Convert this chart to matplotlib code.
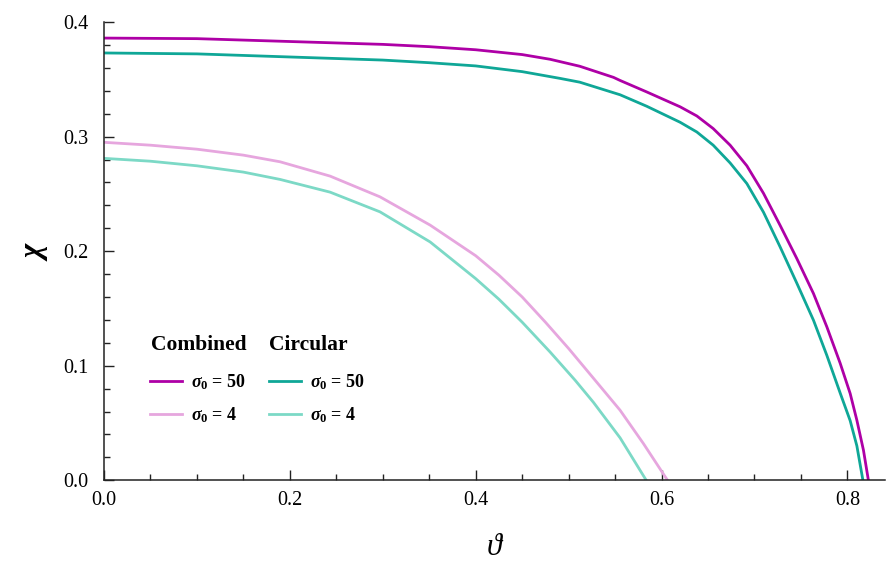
import matplotlib
matplotlib.use("Agg")
import matplotlib.pyplot as plt
from matplotlib.ticker import MultipleLocator

# ---- data ----
g_comb50 = [0.0, 0.1, 0.2, 0.3, 0.35, 0.4, 0.45, 0.48, 0.512, 0.5483, 0.5554, 0.584,
            0.62, 0.638, 0.6556, 0.6738, 0.6918, 0.7097, 0.7276, 0.7456, 0.7635,
            0.7779, 0.7923, 0.803, 0.8102, 0.8173, 0.8226]
chi_comb50 = [0.386, 0.3855, 0.383, 0.3805, 0.3785, 0.3758, 0.3716, 0.3675, 0.3614,
              0.3517, 0.349, 0.339, 0.326, 0.318, 0.307, 0.2925, 0.2745, 0.2505,
              0.2225, 0.1935, 0.163, 0.1339, 0.102, 0.0757, 0.0524, 0.0262, 0.0]

g_circ50 = [0.0, 0.1, 0.2, 0.3, 0.35, 0.4, 0.45, 0.4908, 0.512, 0.5554, 0.584, 0.62,
            0.638, 0.6556, 0.6738, 0.6918, 0.7097, 0.7276, 0.7456, 0.7635, 0.7779,
            0.7923, 0.803, 0.8102, 0.8167]
chi_circ50 = [0.373, 0.3722, 0.3695, 0.3668, 0.3645, 0.3617, 0.3567, 0.3508, 0.3475,
              0.3365, 0.3265, 0.3125, 0.304, 0.2925, 0.277, 0.259, 0.234, 0.2037,
              0.172, 0.1397, 0.109, 0.076, 0.052, 0.030, 0.0]

g_comb4 = [0.0, 0.05, 0.1, 0.15, 0.1895, 0.2433, 0.297, 0.351, 0.4, 0.425, 0.45,
           0.475, 0.5, 0.5285, 0.5554, 0.5805, 0.6064]
chi_comb4 = [0.295, 0.2925, 0.289, 0.2838, 0.278, 0.2655, 0.2474, 0.2227, 0.196,
             0.179, 0.160, 0.138, 0.115, 0.0873, 0.0611, 0.032, 0.0]

g_circ4 = [0.0, 0.05, 0.1, 0.15, 0.1895, 0.2433, 0.297, 0.351, 0.4, 0.425, 0.45,
           0.48, 0.507, 0.5267, 0.5554, 0.5835]
chi_circ4 = [0.281, 0.2785, 0.2745, 0.269, 0.2626, 0.2515, 0.2343, 0.208, 0.176,
             0.158, 0.138, 0.112, 0.0873, 0.068, 0.037, 0.0]

x_ticks = [0.0, 0.2, 0.4, 0.6, 0.8]
y_ticks = [0.0, 0.1, 0.2, 0.3, 0.4]
labels = [r"$\sigma_0$ = 50", r"$\sigma_0$ = 4", r"$\sigma_0$ = 50", r"$\sigma_0$ = 4"]
headers = ["Combined", "Circular"]

# ---- style ----
plt.rcParams['font.family'] = ['Liberation Serif', 'DejaVu Serif']
plt.rcParams['mathtext.fontset'] = 'custom'
plt.rcParams['mathtext.rm'] = 'Liberation Serif:bold'
plt.rcParams['mathtext.it'] = 'Liberation Serif:italic:bold'
plt.rcParams['mathtext.bf'] = 'Liberation Serif:bold'

c_mag = '#AE00A6'
c_teal = '#0FA797'
c_pink = '#E6A6DE'
c_lteal = '#7CD9C6'

fig = plt.figure(figsize=(8.89, 5.8), dpi=100)
ax = fig.add_axes([0.117, 0.172, 0.878, 0.79])

lw = 2.0
l1, = ax.plot(g_comb50, chi_comb50, color=c_mag, lw=lw)
l2, = ax.plot(g_comb4, chi_comb4, color=c_pink, lw=lw)
l3, = ax.plot(g_circ50, chi_circ50, color=c_teal, lw=lw)
l4, = ax.plot(g_circ4, chi_circ4, color=c_lteal, lw=lw)

ax.set_xlim(0, 0.84)
ax.set_ylim(0, 0.4)
ax.set_xticks(x_ticks)
ax.set_yticks(y_ticks)
ax.set_xticklabels([f"{v:.1f}" for v in x_ticks])
ax.set_yticklabels([f"{v:.1f}" for v in y_ticks])
ax.xaxis.set_minor_locator(MultipleLocator(0.05))
ax.yaxis.set_minor_locator(MultipleLocator(0.02))
ax.tick_params(which='both', direction='in', labelsize=14.5, color='#222222')
ax.tick_params(which='major', length=7, width=1.0, pad=8)
ax.tick_params(axis='y', which='major', pad=11)
ax.tick_params(which='minor', length=4, width=1.0)
for s in ['top', 'right']:
    ax.spines[s].set_visible(False)
for s in ['left', 'bottom']:
    ax.spines[s].set_linewidth(1.1)
    ax.spines[s].set_color('#222222')

ax.set_xlabel("\u03d1", fontsize=22, labelpad=16,
              fontdict={'family': ['Liberation Serif', 'DejaVu Serif'],
                        'style': 'italic', 'weight': 'normal'})
ax.set_ylabel(r"$\chi$", fontsize=22, labelpad=10, rotation=90)

leg = ax.legend([l1, l2, l3, l4], labels, ncol=2, loc='upper left',
                bbox_to_anchor=(0.05, 0.252), frameon=False,
                prop={'family': 'Liberation Serif', 'weight': 'bold', 'size': 13},
                handlelength=1.75, handletextpad=0.5, columnspacing=1.3,
                labelspacing=0.75, borderaxespad=0)

ax.text(0.06, 0.295, headers[0], transform=ax.transAxes, fontsize=15.5,
        fontweight='bold', va='center', ha='left')
ax.text(0.212, 0.295, headers[1], transform=ax.transAxes, fontsize=15.5,
        fontweight='bold', va='center', ha='left')

fig.savefig("out.png", dpi=100)
